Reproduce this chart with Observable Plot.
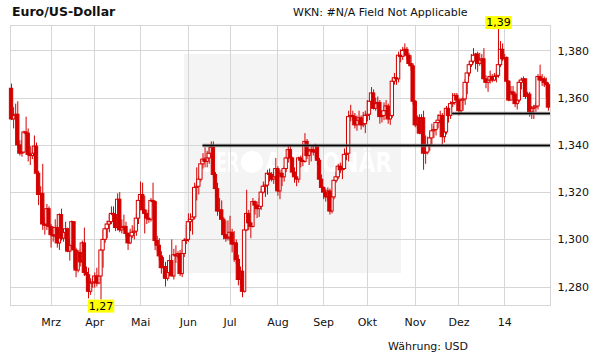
<!DOCTYPE html>
<html>
<head>
<meta charset="utf-8">
<script src="https://cdn.jsdelivr.net/npm/d3@7"></script>
<script src="https://cdn.jsdelivr.net/npm/@observablehq/plot@0.6"></script>
<style>
  body { margin: 0; background: #fff; font-family: "DejaVu Sans", Verdana, sans-serif; color: #111; }
  #wrap { position: relative; width: 611px; height: 364px; overflow: hidden; }
  #bg { position: absolute; left: 0; top: 0; }
  #chart { position: absolute; left: 0; top: 0; }
  .t { position: absolute; white-space: nowrap; line-height: 16px; }
  #title { left: 12px; top: 4px; font-weight: bold; font-size: 12.5px; }
  #wkn { left: 293px; top: 5px; font-size: 11px; }
  #cur { left: 388px; top: 339px; font-size: 11px; }
</style>
</head>
<body>
<div id="wrap">
  <svg id="bg" width="611" height="364">
    <rect x="184" y="54" width="217" height="219" fill="#f4f4f4"></rect>
    <g fill="#ffffff" font-family="DejaVu Sans, sans-serif" font-weight="bold" font-size="27">
      <text x="203" y="172" textLength="36" lengthAdjust="spacingAndGlyphs">DER</text>
      <circle cx="252" cy="162" r="11" fill="#ffffff"></circle>
      <text x="265" y="172" textLength="127" lengthAdjust="spacingAndGlyphs">AKTIONÄR</text>
    </g>
  </svg>
  <div id="chart"></div>
  <div class="t" id="title">Euro/US-Dollar</div>
  <div class="t" id="wkn">WKN: #N/A Field Not Applicable</div>
  <div class="t" id="cur">Währung: USD</div>
</div>
<script>
// ---- data (daily candles, trading days from 2013-02-04) ----
const startDate = "2013-02-04";
const monthLabels = ["Mrz", "Apr", "Mai", "Jun", "Jul", "Aug", "Sep", "Okt", "Nov", "Dez", "14"];
const yTicks = [1.28, 1.30, 1.32, 1.34, 1.36, 1.38];

const open = [
  1.3640,1.3510,1.3525,1.3530,1.3400,1.3365,1.3370,1.3455,1.3450,1.3360,1.3355,1.3365,1.3395,1.3280,1.3190,1.3195,1.3065,1.3060,1.3130,
  1.3055,1.3020,1.3015,1.3050,1.2985,1.3105,1.3005,1.3030,1.3045,1.2950,1.2975,1.3075,1.2955,1.2870,1.2945,1.2905,1.2985,1.2860,1.2850,1.2780,1.2815,
  1.2820,1.2845,1.2815,1.2845,1.2955,1.3000,1.3045,1.3065,1.3075,1.3110,1.3105,1.3050,1.3170,1.3040,1.3050,1.3055,1.3025,1.2985,1.3015,1.3030,1.3035,1.3090,
  1.3165,1.3190,1.3125,1.3110,1.3090,1.3085,1.3165,1.3160,1.2995,1.2975,1.2930,1.2880,1.2885,1.2835,1.2860,1.2910,1.2845,1.2935,1.2930,1.2940,1.2855,1.2940,1.2995,
  1.3000,1.3075,1.3085,1.3095,1.3220,1.3225,1.3255,1.3320,1.3340,1.3330,1.3345,1.3365,1.3390,1.3275,1.3215,1.3120,1.3125,1.3085,1.3020,1.3005,
  1.3010,1.3030,1.2980,1.2985,1.2915,1.2830,1.2865,1.2780,1.3040,1.3110,1.3070,1.3055,1.3160,1.3145,1.3130,1.3140,1.3200,1.3225,1.3230,1.3280,1.3275,1.3255,1.3265,
  1.3300,1.3205,1.3280,1.3265,1.3300,1.3345,1.3380,1.3345,1.3285,1.3265,1.3255,1.3345,1.3335,1.3330,1.3415,1.3355,1.3375,1.3380,1.3370,1.3395,1.3335,1.3255,
  1.3220,1.3200,1.3180,1.3205,1.3120,1.3180,1.3250,1.3265,1.3310,1.3295,1.3300,1.3360,1.3365,1.3520,1.3525,1.3520,1.3485,1.3505,1.3515,1.3485,1.3490,
  1.3525,1.3530,1.3585,1.3620,1.3555,1.3575,1.3580,1.3520,1.3525,1.3545,1.3565,1.3510,1.3525,1.3670,1.3685,1.3680,1.3780,1.3775,1.3800,1.3805,1.3780,1.3745,1.3735,
  1.3585,1.3485,1.3515,1.3450,1.3515,1.3365,1.3370,1.3400,1.3430,1.3460,1.3465,1.3495,1.3505,1.3525,1.3435,1.3455,1.3555,1.3525,1.3575,1.3580,1.3610,
  1.3590,1.3545,1.3590,1.3595,1.3665,1.3705,1.3740,1.3755,1.3780,1.3785,1.3745,1.3760,1.3765,1.3680,1.3665,1.3675,1.3690,1.3675,1.3690,1.3695,1.3740,1.3805,
  1.3765,1.3770,1.3670,1.3590,1.3625,1.3615,1.3575,1.3590,1.3665,1.3675,1.3680,1.3605,1.3615,1.3540,1.3555,1.3560,1.3565,1.3690,1.3675,1.3680,1.3665,1.3655
];
const high = [
  1.3660,1.3560,1.3575,1.3585,1.3420,1.3420,1.3460,1.3520,1.3470,1.3395,1.3385,1.3440,1.3410,1.3290,1.3225,1.3320,1.3095,1.3150,1.3140,
  1.3065,1.3055,1.3085,1.3060,1.3110,1.3130,1.3045,1.3075,1.3050,1.3005,1.3080,1.3075,1.2965,1.2955,1.2960,1.2995,1.3050,1.2885,1.2880,1.2835,1.2835,
  1.2860,1.2880,1.2850,1.2960,1.3040,1.3050,1.3080,1.3105,1.3140,1.3140,1.3160,1.3195,1.3200,1.3085,1.3105,1.3075,1.3030,1.3045,1.3060,1.3055,1.3110,1.3180,
  1.3245,1.3240,1.3185,1.3125,1.3125,1.3175,1.3240,1.3165,1.3015,1.3005,1.2950,1.2925,1.2905,1.2895,1.2935,1.3000,1.2960,1.2975,1.2950,1.2955,1.2960,1.3005,1.3060,
  1.3110,1.3110,1.3105,1.3240,1.3305,1.3270,1.3340,1.3365,1.3390,1.3375,1.3390,1.3415,1.3415,1.3285,1.3240,1.3175,1.3165,1.3095,1.3080,1.3080,
  1.3100,1.3045,1.3035,1.3000,1.2935,1.2885,1.2875,1.3060,1.3210,1.3125,1.3080,1.3175,1.3165,1.3160,1.3175,1.3215,1.3245,1.3245,1.3295,1.3300,1.3285,1.3285,1.3345,
  1.3310,1.3295,1.3295,1.3310,1.3350,1.3400,1.3400,1.3350,1.3305,1.3300,1.3350,1.3355,1.3365,1.3450,1.3425,1.3385,1.3395,1.3395,1.3405,1.3400,1.3345,1.3275,
  1.3225,1.3215,1.3220,1.3215,1.3200,1.3255,1.3285,1.3320,1.3325,1.3325,1.3385,1.3380,1.3545,1.3570,1.3545,1.3535,1.3525,1.3545,1.3525,1.3540,1.3545,
  1.3590,1.3590,1.3645,1.3635,1.3600,1.3605,1.3590,1.3545,1.3580,1.3590,1.3575,1.3545,1.3680,1.3705,1.3705,1.3795,1.3805,1.3815,1.3830,1.3815,1.3790,1.3780,1.3745,
  1.3590,1.3525,1.3530,1.3530,1.3545,1.3440,1.3435,1.3455,1.3490,1.3480,1.3495,1.3530,1.3545,1.3535,1.3475,1.3565,1.3565,1.3585,1.3620,1.3620,1.3620,
  1.3600,1.3595,1.3605,1.3680,1.3705,1.3750,1.3785,1.3810,1.3790,1.3795,1.3790,1.3785,1.3810,1.3695,1.3690,1.3715,1.3700,1.3705,1.3710,1.3895,1.3840,1.3830,
  1.3785,1.3775,1.3675,1.3650,1.3650,1.3625,1.3620,1.3675,1.3685,1.3690,1.3680,1.3625,1.3625,1.3565,1.3570,1.3580,1.3700,1.3740,1.3700,1.3690,1.3685,1.3665
];
const low = [
  1.3505,1.3470,1.3500,1.3390,1.3355,1.3350,1.3365,1.3435,1.3330,1.3315,1.3340,1.3325,1.3270,1.3145,1.3145,1.3040,1.3020,1.3040,1.3050,
  1.2965,1.2990,1.3005,1.2965,1.2955,1.2995,1.2990,1.2995,1.2945,1.2910,1.2960,1.2880,1.2840,1.2860,1.2885,1.2900,1.2845,1.2820,1.2750,1.2765,1.2795,
  1.2795,1.2800,1.2810,1.2745,1.2880,1.2985,1.3005,1.3030,1.3065,1.3060,1.3035,1.3040,1.3030,1.3025,1.3040,1.3010,1.2955,1.2980,1.3005,1.3000,1.3015,1.3065,
  1.3150,1.3110,1.3025,1.3065,1.3070,1.3075,1.3140,1.2955,1.2950,1.2910,1.2855,1.2840,1.2800,1.2825,1.2850,1.2845,1.2830,1.2900,1.2920,1.2845,1.2840,1.2925,1.2980,
  1.2990,1.3035,1.3020,1.3085,1.3165,1.3190,1.3245,1.3300,1.3305,1.3305,1.3320,1.3345,1.3260,1.3175,1.3100,1.3095,1.3080,1.3000,1.2990,1.2995,
  1.2995,1.2945,1.2905,1.2895,1.2805,1.2810,1.2755,1.2775,1.3035,1.3040,1.3005,1.3050,1.3105,1.3090,1.3095,1.3125,1.3195,1.3180,1.3190,1.3245,1.3245,1.3235,1.3210,
  1.3185,1.3170,1.3225,1.3245,1.3285,1.3325,1.3335,1.3275,1.3240,1.3225,1.3240,1.3305,1.3310,1.3325,1.3340,1.3315,1.3330,1.3355,1.3345,1.3315,1.3235,1.3205,
  1.3170,1.3160,1.3165,1.3105,1.3110,1.3170,1.3240,1.3255,1.3280,1.3255,1.3295,1.3335,1.3330,1.3500,1.3505,1.3470,1.3460,1.3485,1.3465,1.3475,1.3450,
  1.3500,1.3505,1.3575,1.3550,1.3545,1.3555,1.3490,1.3495,1.3505,1.3525,1.3490,1.3485,1.3515,1.3655,1.3655,1.3665,1.3750,1.3760,1.3775,1.3760,1.3735,1.3715,1.3570,
  1.3475,1.3470,1.3445,1.3440,1.3295,1.3320,1.3360,1.3375,1.3400,1.3430,1.3440,1.3470,1.3490,1.3400,1.3410,1.3445,1.3495,1.3510,1.3560,1.3570,1.3585,
  1.3525,1.3530,1.3545,1.3570,1.3615,1.3690,1.3730,1.3745,1.3720,1.3710,1.3735,1.3745,1.3680,1.3640,1.3625,1.3660,1.3665,1.3670,1.3665,1.3685,1.3730,1.3755,
  1.3755,1.3660,1.3585,1.3590,1.3600,1.3560,1.3550,1.3580,1.3635,1.3625,1.3595,1.3590,1.3520,1.3510,1.3510,1.3540,1.3550,1.3670,1.3650,1.3645,1.3600,1.3545
];
const close = [
  1.3510,1.3525,1.3530,1.3400,1.3365,1.3370,1.3455,1.3450,1.3360,1.3355,1.3365,1.3395,1.3280,1.3190,1.3195,1.3065,1.3060,1.3130,1.3055,
  1.3020,1.3015,1.3050,1.2985,1.3105,1.3005,1.3030,1.3045,1.2950,1.2975,1.3075,1.2955,1.2870,1.2945,1.2905,1.2985,1.2860,1.2850,1.2780,1.2815,1.2820,
  1.2845,1.2815,1.2845,1.2955,1.3000,1.3045,1.3065,1.3075,1.3110,1.3105,1.3050,1.3170,1.3040,1.3050,1.3055,1.3025,1.2985,1.3015,1.3030,1.3035,1.3090,1.3165,
  1.3190,1.3125,1.3110,1.3090,1.3085,1.3165,1.3160,1.2995,1.2975,1.2930,1.2880,1.2885,1.2835,1.2860,1.2910,1.2845,1.2935,1.2930,1.2940,1.2855,1.2940,1.2995,1.3000,
  1.3075,1.3085,1.3095,1.3220,1.3225,1.3255,1.3320,1.3340,1.3330,1.3345,1.3365,1.3390,1.3275,1.3215,1.3120,1.3125,1.3085,1.3020,1.3005,1.3010,
  1.3030,1.2980,1.2985,1.2915,1.2830,1.2865,1.2780,1.3040,1.3110,1.3070,1.3055,1.3160,1.3145,1.3130,1.3140,1.3200,1.3225,1.3230,1.3280,1.3275,1.3255,1.3265,1.3300,
  1.3205,1.3280,1.3265,1.3300,1.3345,1.3380,1.3345,1.3285,1.3265,1.3255,1.3345,1.3335,1.3330,1.3415,1.3355,1.3375,1.3380,1.3370,1.3395,1.3335,1.3255,1.3220,
  1.3200,1.3180,1.3205,1.3120,1.3180,1.3250,1.3265,1.3310,1.3295,1.3300,1.3360,1.3365,1.3520,1.3525,1.3520,1.3485,1.3505,1.3515,1.3485,1.3490,1.3525,
  1.3530,1.3585,1.3620,1.3555,1.3575,1.3580,1.3520,1.3525,1.3545,1.3565,1.3510,1.3525,1.3670,1.3685,1.3680,1.3780,1.3775,1.3800,1.3805,1.3780,1.3745,1.3735,1.3585,
  1.3485,1.3515,1.3450,1.3515,1.3365,1.3370,1.3400,1.3430,1.3460,1.3465,1.3495,1.3505,1.3525,1.3435,1.3455,1.3555,1.3525,1.3575,1.3580,1.3610,1.3590,
  1.3545,1.3590,1.3595,1.3665,1.3705,1.3740,1.3755,1.3780,1.3785,1.3745,1.3760,1.3765,1.3680,1.3665,1.3675,1.3690,1.3675,1.3690,1.3695,1.3740,1.3805,1.3765,
  1.3770,1.3670,1.3590,1.3625,1.3615,1.3575,1.3590,1.3665,1.3675,1.3680,1.3605,1.3615,1.3540,1.3555,1.3560,1.3565,1.3690,1.3675,1.3680,1.3665,1.3655,1.3560
];
// horizontal support lines (start date, level)
const supportStarts = ["2013-06-12", "2013-11-27"];
const supportLevels = [1.3400, 1.3535];

// ---- build table ----
const N = close.length;
const dates = [];
{
  const [yy, mm, dd] = startDate.split("-").map(Number);
  const d = new Date(Date.UTC(yy, mm - 1, dd));
  while (dates.length < N) {
    const wd = d.getUTCDay();
    if (wd !== 0 && wd !== 6) dates.push(new Date(d));
    d.setUTCDate(d.getUTCDate() + 1);
  }
}
const iso = d => d.toISOString().slice(0, 10);
const candles = close.map((c, i) => ({i, date: dates[i], o: open[i], h: high[i], l: low[i], c}));
const upCandles = candles.filter(d => d.c > d.o);
const downCandles = candles.filter(d => d.c <= d.o);
const monthIdx = [];
for (let i = 1; i < N; i++) if (dates[i].getUTCMonth() !== dates[i - 1].getUTCMonth()) monthIdx.push(i);
const monthName = new Map(monthIdx.map((m, k) => [m, monthLabels[k]]));
const supports = supportLevels.map((v, k) => ({v, i0: dates.findIndex(d => iso(d) === supportStarts[k])}));
const maxC = candles.reduce((a, b) => (b.h > a.h ? b : a));
const minC = candles.reduce((a, b) => (b.l < a.l ? b : a));
const de = v => v.replace(".", ",");

const red = "#d40000";
const gridColor = "#d6d6d6";
const halfW = 0.8;

const chart = Plot.plot({
  width: 611,
  height: 364,
  marginLeft: 10,
  marginRight: 61,
  marginTop: 25,
  marginBottom: 59,
  style: {background: "none", fontFamily: "DejaVu Sans, sans-serif", fontSize: "11px", color: "#111", overflow: "visible"},
  x: {type: "linear", domain: [-0.5, N], axis: null},
  y: {domain: [1.2722, 1.3908], axis: null},
  marks: [
    Plot.gridY(yTicks, {stroke: gridColor, strokeOpacity: 1, shapeRendering: "crispEdges"}),
    Plot.gridX(monthIdx, {stroke: gridColor, strokeOpacity: 1, shapeRendering: "crispEdges"}),
    Plot.frame({stroke: gridColor, shapeRendering: "crispEdges"}),
    Plot.axisY(yTicks, {anchor: "right", tickSize: 0, tickPadding: 7, label: null,
      tickFormat: d => de(d3.format(".3f")(d)), fill: "#111"}),
    Plot.axisX(monthIdx, {anchor: "bottom", tickSize: 0, tickPadding: 13, label: null,
      tickFormat: d => monthName.get(d), fill: "#111"}),
    Plot.ruleX(candles, {x: "i", y1: "l", y2: "h", stroke: red, strokeWidth: 1}),
    Plot.rectY(upCandles, {x1: d => d.i - halfW, x2: d => d.i + halfW, y1: "o", y2: "c",
      fill: "white", stroke: red, strokeWidth: 1}),
    Plot.rectY(downCandles, {x1: d => d.i - halfW, x2: d => d.i + halfW, y1: "o", y2: "c",
      fill: red, stroke: red, strokeWidth: 1}),
    Plot.ruleY(supports, {y: "v", x1: "i0", x2: N, stroke: "#7a7a7a", strokeWidth: 3.4, strokeOpacity: 0.7}),
    Plot.ruleY(supports, {y: "v", x1: "i0", x2: N, stroke: "#000", strokeWidth: 1.6}),
    Plot.text([maxC], {x: "i", y: "h", text: d => de(d3.format(".2f")(d.h)), dy: -6, fontSize: 11, fill: "#000"}),
    Plot.text([minC], {x: "i", y: "l", text: d => de(d3.format(".2f")(d.l)), dy: 6, fontSize: 11, fill: "#000"})
  ]
});
document.getElementById("chart").appendChild(chart);

// yellow boxes behind the extreme labels
const labelTexts = new Set([de(d3.format(".2f")(maxC.h)), de(d3.format(".2f")(minC.l))]);
chart.querySelectorAll("text").forEach(t => {
  if (!labelTexts.has(t.textContent)) return;
  if (t.closest('g[aria-label*="axis"]')) return;
  const b = t.getBBox();
  const r = document.createElementNS("http://www.w3.org/2000/svg", "rect");
  r.setAttribute("x", b.x - 1);
  r.setAttribute("y", b.y);
  r.setAttribute("width", b.width + 2);
  r.setAttribute("height", b.height);
  r.setAttribute("fill", "#ffff00");
  if (t.getAttribute("transform")) r.setAttribute("transform", t.getAttribute("transform"));
  t.parentNode.insertBefore(r, t);
});
</script>
</body>
</html>
